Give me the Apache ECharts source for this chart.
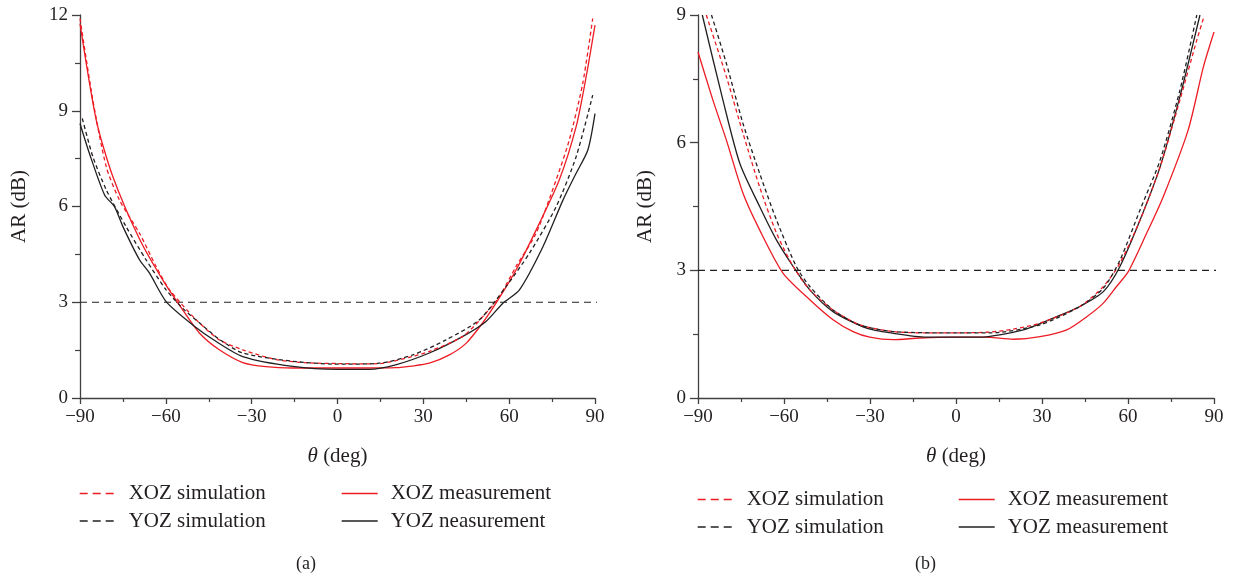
<!DOCTYPE html>
<html>
<head>
<meta charset="utf-8">
<script src="https://cdn.jsdelivr.net/npm/echarts@6/dist/echarts.min.js"></script>
<style>
  html, body { margin: 0; padding: 0; background: #fff; }
  #main { width: 1235px; height: 580px; }
</style>
</head>
<body>
<div id="main"></div>
<script>
// ---- panel (a) data: theta (deg) / AR (dB) ----
const aXozSimDeg = [-90, -85.5, -80.8, -76.2, -69.2, -63.4, -58.7, -49.4, -41.3, -33.1, -21.4, -10, 0, 10, 15, 26.3, 32.1, 43.8, 51.9, 56.6, 62.4, 69.4, 76.4, 81, 85.7, 89.2];
const aXozSimAR = [11.89, 9.33, 7.24, 6.2, 5.16, 4.12, 3.39, 2.45, 1.82, 1.51, 1.2, 1.1, 1.08, 1.07, 1.08, 1.3, 1.46, 1.93, 2.66, 3.18, 4.12, 5.16, 6.83, 8.08, 9.85, 11.89];

const aXozMeasDeg = [-90, -84.3, -78.5, -69.2, -61.1, -54.1, -48.2, -41.3, -33.1, -25, -15.6, 0, 10, 20.3, 26, 32.1, 39.1, 45, 50.7, 55.4, 62.4, 69.4, 77.5, 83.4, 86.9, 90];
const aXozMeasAR = [11.73, 8.7, 6.93, 4.98, 3.7, 2.76, 2.03, 1.51, 1.11, 0.98, 0.94, 0.94, 0.94, 0.95, 1.0, 1.09, 1.35, 1.72, 2.35, 2.97, 4.01, 5.26, 6.83, 8.5, 10.06, 11.68];

const aYozSimDeg = [-89.2, -85.5, -80.8, -73.9, -66.9, -59.9, -54, -48.2, -41, -33.1, -15.6, 0, 14.7, 26.3, 37.9, 49.6, 58.9, 67.1, 76.4, 83.4, 89.2];
const aYozSimAR = [8.76, 7.56, 6.52, 5.37, 4.33, 3.39, 2.8, 2.35, 1.82, 1.41, 1.15, 1.06, 1.09, 1.35, 1.82, 2.45, 3.49, 4.54, 5.99, 7.56, 9.49];

const aYozMeasDeg = [-90, -86.7, -81.4, -77.9, -75, -69.2, -65.7, -59.9, -50.6, -42.4, -33.1, -15.6, 0, 11, 20.3, 32.1, 43.8, 51.9, 57.8, 63.6, 71.8, 78.8, 83.4, 87.5, 90];
const aYozMeasAR = [8.6, 7.66, 6.36, 5.99, 5.37, 4.33, 3.91, 3.02, 2.29, 1.77, 1.3, 0.99, 0.9, 0.9, 1.04, 1.41, 1.93, 2.4, 2.97, 3.39, 4.74, 6.2, 7.04, 7.77, 8.91];

// ---- panel (b) data ----
const bXozSimDeg = [-87.1, -80.1, -74.3, -68.5, -62.6, -56.8, -51, -42.9, -33.6, -21.9, -10, 0, 11.8, 20, 29.3, 43.2, 51.4, 57.2, 64.2, 71.2, 78.1, 84, 86.3];
const bXozSimAR = [9, 7.55, 6.22, 4.96, 3.87, 3.09, 2.54, 2.07, 1.72, 1.56, 1.53, 1.53, 1.55, 1.62, 1.76, 2.15, 2.62, 3.17, 4.18, 5.43, 7.0, 8.41, 8.92];

const bXozMeasDeg = [-90, -84.8, -80.1, -74.3, -68.5, -60.3, -51, -42.9, -35.9, -30.1, -21.9, -12.6, 0, 10, 20, 29.3, 38.6, 45.6, 51.4, 56, 60.1, 66.5, 72.3, 81, 86.3, 90];
const bXozMeasAR = [8.13, 7.0, 6.06, 4.81, 3.95, 2.93, 2.31, 1.84, 1.56, 1.43, 1.37, 1.41, 1.43, 1.43, 1.38, 1.44, 1.6, 1.91, 2.23, 2.62, 2.97, 3.87, 4.73, 6.3, 7.78, 8.6];

const bYozSimDeg = [-85.3, -80.1, -74.3, -68.5, -62.6, -55.7, -51, -42.9, -33.6, -21.9, 0, 12, 29.3, 43.2, 51.4, 57.2, 64.2, 71.2, 78.1, 84];
const bYozSimAR = [9, 7.86, 6.45, 5.28, 4.18, 3.09, 2.62, 2.07, 1.72, 1.56, 1.53, 1.53, 1.72, 2.15, 2.58, 3.24, 4.42, 5.59, 7.23, 9];

const bYozMeasDeg = [-88.5, -81.3, -75.4, -68.5, -62.6, -56.8, -51, -42.9, -31.2, -21.9, -10.3, 0, 8, 23.5, 35.1, 43.2, 51.4, 57.2, 64.2, 71.2, 78.1, 85.1];
const bYozMeasAR = [9, 7.0, 5.51, 4.5, 3.71, 3.09, 2.54, 2.03, 1.64, 1.52, 1.43, 1.43, 1.43, 1.6, 1.91, 2.15, 2.5, 3.09, 4.18, 5.43, 7.08, 9];

// 3 dB reference line (runs a little past 90 like the original)
const refDeg = [-90, 92.5];
const refAR = [3, 3];

const xTicks = { min: -90, max: 90, interval: 30 };
const yMaxA = 12;
const yMaxB = 9;

const RED = '#ed1c24';
const BLACK = '#231f20';
const AXIS = '#404040';
const FONT = '"Liberation Serif", "DejaVu Serif", serif';

function zip(xs, ys) {
  return xs.map((x, i) => [x, ys[i]]);
}
const minus = v => String(v).replace('-', '\u2212');

function xAxisOf(idx) {
  return {
    type: 'value',
    gridIndex: idx,
    min: xTicks.min,
    max: xTicks.max,
    interval: xTicks.interval,
    name: '{i|θ} (deg)',
    nameLocation: 'middle',
    nameGap: 48,
    nameTextStyle: {
      fontFamily: FONT, fontSize: 21, color: BLACK,
      rich: { i: { fontFamily: FONT, fontSize: 21, fontStyle: 'italic', color: BLACK } }
    },
    axisLine: { show: true, onZero: false, lineStyle: { color: AXIS, width: 1.3 } },
    axisTick: { show: true, inside: false, length: 6, lineStyle: { color: AXIS, width: 1.3 } },
    minorTick: { show: true, splitNumber: 2, length: 4, lineStyle: { color: AXIS, width: 1.2 } },
    axisLabel: { formatter: minus, fontFamily: FONT, fontSize: 19, color: BLACK, margin: 10 },
    splitLine: { show: false }
  };
}

function yAxisOf(idx, max, gap) {
  return {
    type: 'value',
    gridIndex: idx,
    min: 0,
    max: max,
    interval: 3,
    name: 'AR (dB)',
    nameLocation: 'middle',
    nameGap: gap,
    nameTextStyle: { fontFamily: FONT, fontSize: 21, color: BLACK },
    axisLine: { show: true, onZero: false, lineStyle: { color: AXIS, width: 1.3 } },
    axisTick: { show: true, inside: false, length: 8, lineStyle: { color: AXIS, width: 1.3 } },
    minorTick: { show: true, splitNumber: 2, length: 5, lineStyle: { color: AXIS, width: 1.2 } },
    axisLabel: { fontFamily: FONT, fontSize: 19, color: BLACK, margin: 12 },
    splitLine: { show: false }
  };
}

function curve(name, idx, data, color, dashed) {
  return {
    name: name,
    type: 'line',
    xAxisIndex: idx,
    yAxisIndex: idx,
    data: data,
    symbol: 'none',
    smooth: 0.25,
    silent: true,
    lineStyle: { color: color, width: 1.3, type: dashed ? [4, 3] : 'solid' },
    itemStyle: { color: color },
    z: dashed ? 3 : 2
  };
}

function refLine(idx) {
  return {
    name: 'ref' + idx,
    type: 'line',
    xAxisIndex: idx,
    yAxisIndex: idx,
    data: zip(refDeg, refAR),
    symbol: 'none',
    clip: false,
    silent: true,
    lineStyle: { color: BLACK, width: 1.2, type: [7, 5] },
    z: 1
  };
}

function legendOf(left, top, names) {
  return {
    orient: 'vertical',
    left: left,
    top: top,
    padding: 0,
    selectedMode: false,
    itemWidth: 36,
    itemHeight: 10,
    itemGap: 6.5,
    textStyle: { fontFamily: FONT, fontSize: 21, color: BLACK, lineHeight: 20, padding: [0, 0, 0, 8] },
    data: names.map(n => ({
      name: n,
      itemStyle: { opacity: 0 },
      lineStyle: { width: 1.4, type: n.indexOf('simulation') >= 0 ? [8, 5] : 'solid' }
    }))
  };
}

const chart = echarts.init(document.getElementById('main'), null, { renderer: 'canvas' });

const option = {
  backgroundColor: '#ffffff',
  animation: false,
  grid: [
    { left: 80, top: 15, width: 515, height: 383 },
    { left: 698, top: 15, width: 516, height: 383 }
  ],
  xAxis: [xAxisOf(0), xAxisOf(1)],
  yAxis: [yAxisOf(0, yMaxA, 50), yAxisOf(1, yMaxB, 42)],
  legend: [
    legendOf(79, 483, ['XOZ simulation', 'YOZ simulation']),
    legendOf(341, 483, ['XOZ measurement', 'YOZ neasurement']),
    legendOf(697, 489, ['XOZ simulation', 'YOZ simulation']),
    legendOf(958, 489, ['XOZ measurement', 'YOZ measurement'])
  ],
  graphic: [
    { type: 'text', left: 296, top: 555, style: { text: '(a)', font: '18px ' + FONT, fill: BLACK } },
    { type: 'text', left: 915, top: 555, style: { text: '(b)', font: '18px ' + FONT, fill: BLACK } }
  ],
  series: [
    refLine(0),
    curve('XOZ simulation', 0, zip(aXozSimDeg, aXozSimAR), RED, true),
    curve('XOZ measurement', 0, zip(aXozMeasDeg, aXozMeasAR), RED, false),
    curve('YOZ simulation', 0, zip(aYozSimDeg, aYozSimAR), BLACK, true),
    curve('YOZ neasurement', 0, zip(aYozMeasDeg, aYozMeasAR), BLACK, false),
    refLine(1),
    curve('XOZ simulation', 1, zip(bXozSimDeg, bXozSimAR), RED, true),
    curve('XOZ measurement', 1, zip(bXozMeasDeg, bXozMeasAR), RED, false),
    curve('YOZ simulation', 1, zip(bYozSimDeg, bYozSimAR), BLACK, true),
    curve('YOZ measurement', 1, zip(bYozMeasDeg, bYozMeasAR), BLACK, false)
  ]
};

chart.setOption(option);
</script>
</body>
</html>
